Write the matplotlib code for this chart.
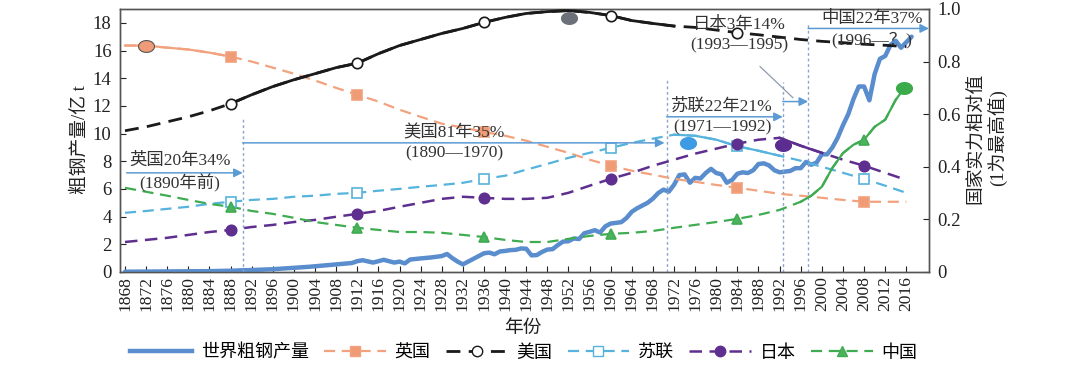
import numpy as np
import matplotlib
matplotlib.use("Agg")
import matplotlib.pyplot as plt
from matplotlib.lines import Line2D
from matplotlib.path import Path

plt.rcParams['font.family'] = ['Liberation Serif', 'Noto Sans CJK SC', 'DejaVu Sans']

# world crude steel output (亿 t)
steel_years = [1868, 1872, 1876, 1880, 1884, 1888, 1890, 1892, 1896, 1900, 1903, 1906, 1909, 1911,
               1912, 1913, 1915, 1917, 1919, 1920, 1921, 1922, 1924, 1926, 1928, 1929, 1930, 1931,
               1932, 1933, 1934, 1935, 1936, 1937, 1938, 1939, 1940, 1941, 1942, 1943, 1944, 1945,
               1946, 1947, 1948, 1949, 1950, 1951, 1952, 1953, 1954, 1955, 1956, 1957, 1958, 1959,
               1960, 1961, 1962, 1963, 1964, 1965, 1966, 1967, 1968, 1969, 1970, 1971, 1972, 1973,
               1974, 1975, 1976, 1977, 1978, 1979, 1980, 1981, 1982, 1983, 1984, 1985, 1986, 1987,
               1988, 1989, 1990, 1991, 1992, 1993, 1994, 1995, 1996, 1997, 1998, 1999, 2000, 2001,
               2002, 2003, 2004, 2005, 2006, 2007, 2008, 2009, 2010, 2011, 2012, 2013, 2014, 2015,
               2016, 2017]
steel_vals = [0.02, 0.03, 0.04, 0.05, 0.06, 0.09, 0.12, 0.14, 0.2, 0.3, 0.38, 0.48, 0.58, 0.65,
              0.78, 0.85, 0.68, 0.88, 0.68, 0.75, 0.62, 0.9, 0.98, 1.05, 1.15, 1.3, 1.0, 0.75,
              0.55, 0.75, 0.95, 1.15, 1.35, 1.4, 1.28, 1.48, 1.52, 1.58, 1.6, 1.7, 1.68, 1.2,
              1.22, 1.45, 1.62, 1.65, 1.95, 2.2, 2.22, 2.42, 2.38, 2.8, 2.9, 3.02, 2.85, 3.3,
              3.5, 3.55, 3.6, 3.9, 4.35, 4.6, 4.8, 5.0, 5.3, 5.7, 5.95, 5.8, 6.3, 7.0,
              7.05, 6.45, 6.8, 6.75, 7.15, 7.45, 7.15, 7.05, 6.45, 6.65, 7.1, 7.2, 7.15, 7.35,
              7.8, 7.85, 7.7, 7.35, 7.2, 7.25, 7.3, 7.5, 7.5, 7.95, 7.75, 7.9, 8.5, 8.5,
              9.0, 9.7, 10.6, 11.4, 12.5, 13.4, 13.4, 12.4, 14.3, 15.4, 15.6, 16.4, 16.7, 16.2,
              16.6, 17.0]

# relative national strength (right axis), read every 4 years
yrs = list(range(1868, 2017, 4))
uk = [0.861, 0.861, 0.853, 0.846, 0.834, 0.819, 0.80, 0.777, 0.754, 0.728, 0.70, 0.674, 0.648,
      0.617, 0.59, 0.564, 0.549, 0.533, 0.518, 0.499, 0.476, 0.453, 0.427, 0.404, 0.385, 0.37,
      0.354, 0.343, 0.331, 0.32, 0.309, 0.297, 0.29, 0.282, 0.274, 0.267, 0.267, 0.267]
us = [0.537, 0.552, 0.571, 0.59, 0.613, 0.64, 0.674, 0.705, 0.731, 0.754, 0.777, 0.794, 0.83,
      0.861, 0.884, 0.907, 0.926, 0.949, 0.968, 0.983, 0.99, 0.994, 0.987, 0.975, 0.956, 0.945,
      0.935, 0.93, 0.92, 0.91, 0.902, 0.893, 0.884, 0.877, 0.872, 0.866, 0.862, 0.857]
ussr = [0.225, 0.232, 0.24, 0.248, 0.259, 0.267, 0.274, 0.278, 0.286, 0.29, 0.297, 0.301, 0.309,
        0.316, 0.324, 0.331, 0.339, 0.354, 0.366, 0.389, 0.411, 0.434, 0.453, 0.472, 0.491, 0.507,
        0.522, 0.518, 0.503, 0.478, 0.461, 0.442, 0.423, 0.40, 0.377, 0.354, 0.328, 0.301]
japan = [0.114, 0.122, 0.13, 0.141, 0.152, 0.16, 0.171, 0.179, 0.19, 0.198, 0.21, 0.221, 0.232,
         0.248, 0.263, 0.278, 0.286, 0.282, 0.278, 0.278, 0.282, 0.301, 0.328, 0.354, 0.377, 0.404,
         0.427, 0.45, 0.469, 0.488, 0.503, 0.51, 0.48, 0.453, 0.427, 0.404, 0.377, 0.35]
china_yrs = yrs[:-1] + [1998, 2002, 2006, 2010, 2014, 2015]
china = [0.32, 0.305, 0.29, 0.274, 0.259, 0.248, 0.232, 0.221, 0.206, 0.19, 0.179, 0.168, 0.16,
         0.152, 0.152, 0.149, 0.141, 0.133, 0.122, 0.114, 0.114, 0.126, 0.137, 0.145, 0.149, 0.156,
         0.168, 0.179, 0.19, 0.202, 0.217, 0.236, 0.267, 0.324, 0.452, 0.503, 0.579,
         0.29, 0.396, 0.484, 0.552, 0.655, 0.682]

marker_years = [1888, 1912, 1936, 1960, 1984, 2008]
solid_spans = {'uk': (1868, 1888), 'us': (1888, 1972), 'ussr': (1972, 1992),
               'japan': (1992, 2000), 'china': (1996, 2015)}

peak_x = [1872, 1952.1, 1974.6, 1992.6, 2015.5]
peak_y = [0.861, 0.964, 0.491, 0.484, 0.70]
peak_colors = ['#ef9b78', '#6b7079', '#3d9be3', '#5c2d91', '#3aaa4a']

labels = {'uk': '英国20年34%\n(1890年前)', 'us': '美国81年35%\n(1890—1970)',
          'ussr': '苏联22年21%\n(1971—1992)', 'japan': '日本3年14%\n(1993—1995)',
          'china': '中国22年37%\n(1996—？)'}

C_STEEL = '#5a8dcd'
C_UK = '#f2a27e'
C_US = '#1a1a1a'
C_USSR = '#56b3dd'
C_JP = '#5e2f8f'
C_CN = '#3fac52'
C_ARROW = '#5b9bd5'
C_VLINE = '#8aa4cc'

fig = plt.figure(figsize=(10.8, 3.67), dpi=100)
ax = fig.add_axes([0.1111, 0.2589, 0.7491, 0.7166])
ax2 = ax.twinx()

ax.plot(steel_years, steel_vals, color=C_STEEL, lw=3.2, solid_capstyle='round', zorder=3)
ax.set_xlim(1867.05, 2020.3)
ax.set_ylim(0, 19)
ax2.set_ylim(0, 1.0)


def country(key, xs, ys, color, lw, marker, mfc, ms, skip_last=False):
    xs = np.array(xs, dtype=float)
    ys = np.array(ys, dtype=float)
    order = np.argsort(xs)
    xs, ys = xs[order], ys[order]
    ax2.plot(xs, ys, color=color, lw=lw, ls=(0, (5, 3)), zorder=4)
    a, b = solid_spans[key]
    m = (xs >= a) & (xs <= b)
    ax2.plot(xs[m], ys[m], color=color, lw=lw, ls='-', zorder=4)
    my = marker_years[:-1] if skip_last else marker_years
    mm = np.isin(xs, my)
    ax2.plot(xs[mm], ys[mm], ls='none', marker=marker, mfc=mfc, mec=color, ms=ms, mew=1.2, zorder=5)


country('uk', yrs, uk, C_UK, 1.6, 's', '#ef9b76', 7)
country('us', yrs, us, C_US, 2.0, 'o', 'white', 7.5, skip_last=True)
country('ussr', yrs, ussr, C_USSR, 1.6, 's', 'white', 7.5)
country('japan', yrs, japan, C_JP, 1.8, 'o', C_JP, 7.5)
country('china', china_yrs, china, C_CN, 1.6, '^', '#4cb35d', 7)

# highlighted peak markers
t = np.linspace(0, 2 * np.pi, 60)
ellipse = Path(np.column_stack([1.35 * np.cos(t), np.sin(t)]))
for px, py, pc in zip(peak_x, peak_y, peak_colors):
    ax2.plot(px, py, marker=ellipse, ms=11.5, mfc=pc, mec='#555555' if pc == '#ef9b78' else pc,
             mew=0.8, ls='none', zorder=6)

# dotted guide lines
vlines = [(1890.3, 0.59), (1970.6, 0.731), (1992.6, 0.724), (1997.4, 0.952)]
for vx, vtop in vlines:
    ax2.plot([vx, vx], [0, vtop], color=C_VLINE, lw=1.0, ls=(0, (2, 2)), zorder=2)

# period arrows
arrows = [(1868.3, 1890.3, 0.377), (1890.3, 1970.2, 0.491), (1970.6, 1992.6, 0.59),
          (1992.6, 1997.4, 0.648), (1997.4, 2020.3, 0.926)]
for x0, x1, ay in arrows:
    ax2.annotate('', xy=(x1, ay), xytext=(x0, ay), annotation_clip=False,
                 arrowprops=dict(arrowstyle='-|>', color=C_ARROW, lw=1.1, mutation_scale=13,
                                 shrinkA=0, shrinkB=0), zorder=7)
ax2.plot([1988.3, 1994.5], [0.781, 0.663], color='#8d9bb0', lw=0.9, zorder=7)

text_pos = {'uk': (1878.4, 0.377), 'us': (1930.3, 0.491), 'ussr': (1981.1, 0.59),
            'japan': (1984.3, 0.899), 'china': (2009.5, 0.922)}
for k, (tx, ty) in text_pos.items():
    ax2.text(tx, ty, labels[k], ha='center', va='center', fontsize=12.5, color='#333333',
             linespacing=1.35, zorder=8)

# ticks and spines
xt = list(range(1868, 2017, 4))
ax.set_xticks(xt)
ax.set_xticklabels([str(v) for v in xt], rotation=90, fontsize=12.6)
ax.set_yticks(range(0, 19, 2))
ax2.set_yticks([0, 0.2, 0.4, 0.6, 0.8, 1.0])
ax2.set_yticklabels(['0', '0.2', '0.4', '0.6', '0.8', '1.0'])
ax.tick_params(axis='x', direction='in', length=4, pad=3, colors='#222222')
ax.tick_params(axis='y', direction='in', length=4, pad=6, labelsize=13.5, colors='#222222')
ax2.tick_params(axis='y', direction='in', length=4, pad=6, labelsize=13.5, colors='#222222')
for a in (ax, ax2):
    for s in a.spines.values():
        s.set_color('#555555')
        s.set_linewidth(1.0)

fig.text(80 / 1080, 1 - 140 / 367, '粗钢产量/亿 t', rotation=90, ha='center', va='center',
         fontsize=13.5, color='#222222')
fig.text(987 / 1080, 1 - 138 / 367, '国家实力相对值\n(1为最高值)', rotation=90, ha='center',
         va='center', fontsize=13.5, color='#222222', multialignment='center', linespacing=1.2)
fig.text(523 / 1080, 1 - 328 / 367, '年份', ha='center', va='center', fontsize=13.5, color='#222222')

handles = [
    Line2D([], [], color=C_STEEL, lw=3.2),
    Line2D([], [], color=C_UK, lw=1.6, ls=(0, (5, 3)), marker='s', mfc='#ef9b76', mec=C_UK, ms=7),
    Line2D([], [], color=C_US, lw=2.0, ls=(0, (5, 3)), marker='o', mfc='white', mec=C_US, ms=7.5),
    Line2D([], [], color=C_USSR, lw=1.6, ls=(0, (5, 3)), marker='s', mfc='white', mec=C_USSR, ms=7.5),
    Line2D([], [], color=C_JP, lw=1.8, ls=(0, (5, 3)), marker='o', mfc=C_JP, mec=C_JP, ms=7.5),
    Line2D([], [], color=C_CN, lw=1.6, ls=(0, (5, 3)), marker='^', mfc='#4cb35d', mec=C_CN, ms=7),
]
names = ['世界粗钢产量', '英国', '美国', '苏联', '日本', '中国']
fig.legend(handles, names, loc='center', bbox_to_anchor=(524 / 1080, 1 - 353 / 367), ncol=6,
           frameon=False, fontsize=13, handlelength=3.4, columnspacing=0.85, handletextpad=0.5)

fig.savefig('out.png', dpi=100)
